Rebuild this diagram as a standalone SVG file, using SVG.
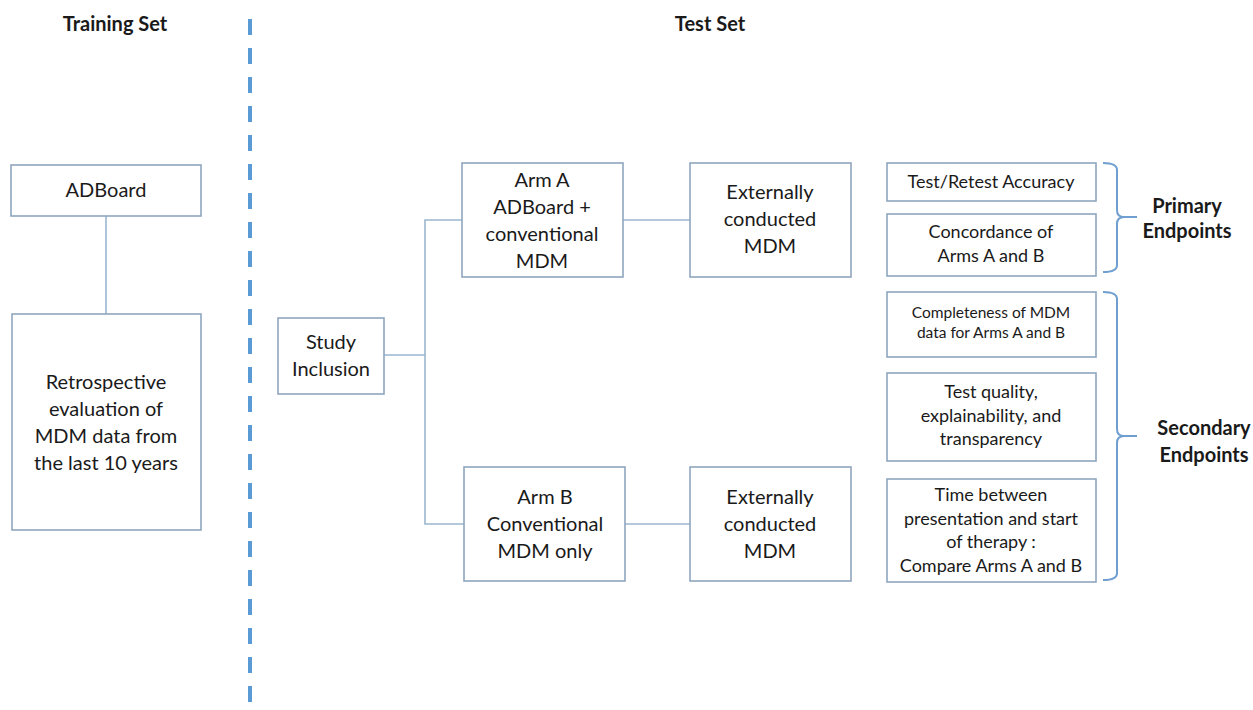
<svg xmlns="http://www.w3.org/2000/svg" width="1253" height="710" viewBox="0 0 1253 710">
<style>
.box{fill:#fff;stroke:#8fa6bd;stroke-width:1.6}
.ln{fill:none;stroke:#9ab6d0;stroke-width:1.6}
.br{fill:none;stroke:#6f9fd0;stroke-width:2}
text{font-family:Lato,"Liberation Sans",sans-serif;fill:#1a1a1a;text-anchor:middle}
.t{font-size:20px}
.s{font-size:18px}
.xs{font-size:15.5px}
.h{font-size:20px;font-weight:bold}
</style>
<rect width="1253" height="710" fill="#fff"/>
<line x1="250" y1="19" x2="250" y2="710" stroke="#5b9bd5" stroke-width="4" stroke-dasharray="16 13"/>
<text class="h" x="115" y="31">Training Set</text>
<text class="h" x="710" y="31">Test Set</text>
<g id="connectors">
<line class="ln" x1="106" y1="216" x2="106" y2="314"/>
<polyline class="ln" points="384,355 425,355"/>
<polyline class="ln" points="462,220 425,220 425,524 464,524"/>
<line class="ln" x1="623" y1="220" x2="690" y2="220"/>
<line class="ln" x1="625" y1="524" x2="690" y2="524"/>
<path class="br" d="M1103,163 Q1117,163 1117,170 V210 Q1117,217 1124,217 H1137 M1124,217 Q1117,217 1117,224 V265 Q1117,272 1103,272"/>
<path class="br" d="M1103,292 Q1117,292 1117,299 V429 Q1117,436 1124,436 H1137 M1124,436 Q1117,436 1117,443 V573 Q1117,580 1103,580"/>
</g>
<g id="adboard"><rect class="box" x="11" y="165" width="190" height="51"/><text class="t" x="106" y="197">ADBoard</text></g>
<g id="retro"><rect class="box" x="12" y="314" width="189" height="216"/>
<text class="t" x="106" y="389">Retrospective</text><text class="t" x="106" y="416">evaluation of</text><text class="t" x="106" y="443">MDM data from</text><text class="t" x="106" y="470">the last 10 years</text></g>
<g id="study"><rect class="box" x="278" y="318" width="106" height="76"/>
<text class="t" x="331" y="349">Study</text><text class="t" x="331" y="376">Inclusion</text></g>
<g id="armA"><rect class="box" x="462" y="163" width="161" height="114"/>
<text class="t" x="542" y="187">Arm A</text><text class="t" x="542" y="214">ADBoard +</text><text class="t" x="542" y="241">conventional</text><text class="t" x="542" y="268">MDM</text></g>
<g id="extA"><rect class="box" x="690" y="163" width="161" height="114"/>
<text class="t" x="770" y="199">Externally</text><text class="t" x="770" y="226">conducted</text><text class="t" x="770" y="253">MDM</text></g>
<g id="armB"><rect class="box" x="464" y="467" width="161" height="114"/>
<text class="t" x="545" y="504">Arm B</text><text class="t" x="545" y="531">Conventional</text><text class="t" x="545" y="558">MDM only</text></g>
<g id="extB"><rect class="box" x="690" y="467" width="161" height="114"/>
<text class="t" x="770" y="504">Externally</text><text class="t" x="770" y="531">conducted</text><text class="t" x="770" y="558">MDM</text></g>
<g id="ep1"><rect class="box" x="887" y="163" width="209" height="38"/><text class="s" x="991" y="188">Test/Retest Accuracy</text></g>
<g id="ep2"><rect class="box" x="887" y="214" width="209" height="62"/><text class="s" x="991" y="238">Concordance of</text><text class="s" x="991" y="262">Arms A and B</text></g>
<g id="ep3"><rect class="box" x="887" y="292" width="209" height="65"/><text class="xs" x="991" y="318">Completeness of MDM</text><text class="xs" x="991" y="338">data for Arms A and B</text></g>
<g id="ep4"><rect class="box" x="887" y="373" width="209" height="88"/><text class="s" x="991" y="398">Test quality,</text><text class="s" x="991" y="422">explainability, and</text><text class="s" x="991" y="445">transparency</text></g>
<g id="ep5"><rect class="box" x="887" y="479" width="209" height="103"/><text class="s" x="991" y="501">Time between</text><text class="s" x="991" y="525">presentation and start</text><text class="s" x="991" y="548">of therapy :</text><text class="s" x="991" y="572">Compare Arms A and B</text></g>
<g id="primary"><text class="h" x="1187" y="213">Primary</text><text class="h" x="1187" y="238">Endpoints</text></g>
<g id="secondary"><text class="h" x="1204" y="435">Secondary</text><text class="h" x="1204" y="462">Endpoints</text></g>
</svg>
